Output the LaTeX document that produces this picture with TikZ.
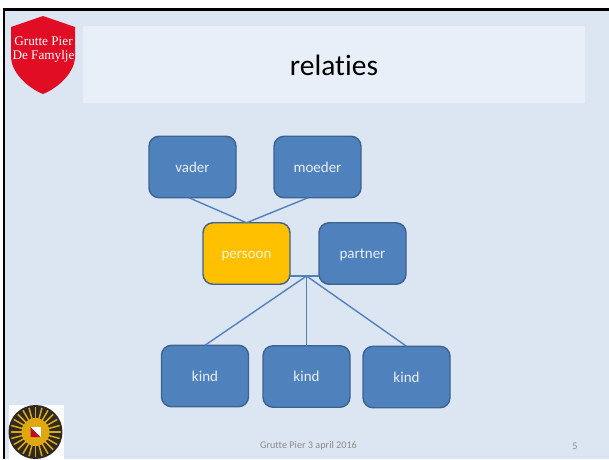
\documentclass[tikz,border=0pt]{standalone}
\usepackage{fontspec}
\setmainfont{Carlito}[Ligatures=NoCommon]
\newfontfamily\shieldfont{Liberation Serif}
\definecolor{slidebg}{HTML}{DCE6F2}
\definecolor{titlebg}{HTML}{E9EFF8}
\definecolor{boxfill}{HTML}{4F81BD}
\definecolor{boxline}{HTML}{3B6290}
\definecolor{gold}{HTML}{FFC000}
\definecolor{shieldred}{HTML}{E00D25}
\definecolor{footgray}{HTML}{8B8B8B}
\definecolor{sundark}{HTML}{2E2A22}
\definecolor{sungold}{HTML}{E0A810}
\tikzset{
  every node/.style={inner sep=0pt,outer sep=0pt},
  rbox/.style={draw=boxline,line width=1.4pt,fill=boxfill,rounded corners=10pt,
    minimum width=87pt,minimum height=61.5pt,text=white!88!boxfill,text height=10.8pt,text depth=0pt,
    font=\fontsize{15}{17}\selectfont},
  ybox/.style={rbox,fill=gold,text=white!85!gold},
  link/.style={draw=boxfill,line width=1.4pt},
  foot/.style={text=footgray,font=\fontsize{10.2}{12}\selectfont},
  shieldtext/.style={text=white,font=\shieldfont\fontsize{13.2}{15}\selectfont}
}
\begin{document}
\begin{tikzpicture}[x=1pt,y=-1pt]
\useasboundingbox (0,0) rectangle (609,459);
\fill[white] (0,0) rectangle (609,459);
\fill[black] (3,8) rectangle (609,459);
\fill[slidebg] (5,10.5) rectangle (609,459);
\fill[titlebg] (83,26) rectangle (585,103);
\node[font=\fontsize{29.5}{32}\selectfont,text=black] (title) at (334,65.5) {relaties};
% shield
\fill[shieldred] (43,16) -- (75,27) -- (75,58) .. controls (74,72) and (60,87) .. (43,94)
  .. controls (26,87) and (12,72) .. (11,58) -- (11,27) -- cycle;
\node[shieldtext] (sh1) at (43.5,41) {Grutte Pier};
\node[shieldtext] (sh2) at (43.5,56) {De Famylje};
% sun logo
\fill[white] (9,405) rectangle (64,459);
\fill[sundark] (35.5,432) circle (27);
\foreach \a in {0,15,...,345}{
  \draw[sungold,line width=1.5pt] (35.5,432) ++(\a:13) -- ++(\a:12);
}
\fill[sungold] (35.5,432) circle (14);
\fill[white] (30.5,427) rectangle (40.5,437);
\fill[shieldred!85!black] (30.5,427) -- (40.5,437) -- (30.5,437) -- cycle;
% boxes
\node[rbox] (vader) at (192.5,167) {vader};
\node[rbox] (moeder) at (317.5,167) {moeder};
\node[ybox] (persoon) at (246.5,253.5) {persoon};
\node[rbox] (partner) at (362.5,253.5) {partner};
\node[rbox] (kind1) at (205,376) {kind};
\node[rbox] (kind2) at (306.5,376.5) {kind};
\node[rbox] (kind3) at (406.5,377) {kind};
\coordinate (junction) at (306.5,276);
% connectors
\draw[link] ([xshift=-3.5pt]vader.south) -- (persoon.north);
\draw[link] ([xshift=-9.5pt]moeder.south) -- (persoon.north);
\draw[link,line width=1.8pt] (persoon.east |- junction) -- (partner.west |- junction);
\draw[link] (junction) -- (kind1.north);
\draw[link,line width=1.8pt] (junction) -- (kind2.north);
\draw[link] (junction) -- (kind3.north);
% footer
\node[foot] (date) at (308.5,446) {Grutte Pier 3 april 2016};
\node[foot] (num) at (575,446) {5};
\end{tikzpicture}
\end{document}
